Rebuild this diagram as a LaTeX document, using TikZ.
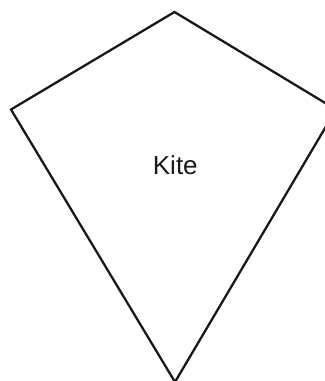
\documentclass[tikz,border=0pt]{standalone}
\usepackage{fontspec}
\setmainfont{Liberation Sans}
\usepackage{tikz}

\begin{document}
\begin{tikzpicture}[x=0.5pt, y=-0.5pt, font=\fontsize{13}{15}\selectfont]
  \useasboundingbox (0,0) rectangle (325,381);
  \coordinate (top) at (174.5,12);
  \coordinate (left) at (11,109.5);
  \coordinate (right) at (336,109.5);
  \coordinate (bottom) at (175,382);
  \clip (0,0) rectangle (325,381);
  \draw[line width=1.15pt, draw=black!90, line join=miter] (top) -- (right) -- (bottom) -- (left) -- cycle;
  \node[anchor=base, inner sep=0pt, black!90] (label) at (175.3,174) {Kite};
\end{tikzpicture}
\end{document}
